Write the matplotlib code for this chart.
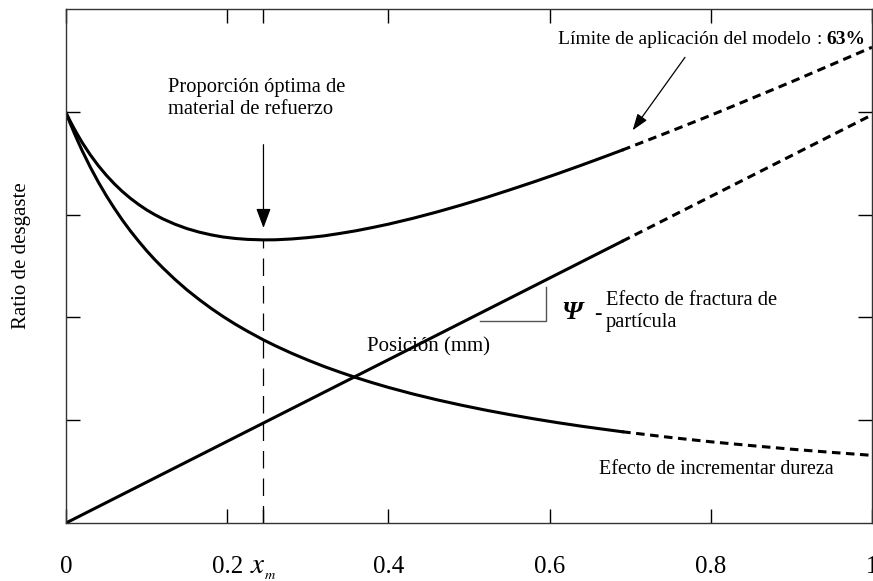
import numpy as np
import matplotlib
matplotlib.use("Agg")
from matplotlib import pyplot as plt

plt.rcParams['font.family'] = ['Liberation Serif', 'DejaVu Serif']
plt.rcParams['mathtext.fontset'] = 'stix'

# posicion (fraccion) y ratio de desgaste
x_solid = [0, 0.005, 0.01, 0.015, 0.02, 0.03, 0.04, 0.05, 0.06, 0.07, 0.08,
           0.09, 0.10, 0.11, 0.12, 0.135, 0.15, 0.165, 0.18, 0.195, 0.21,
           0.225, 0.245, 0.26, 0.28, 0.30, 0.32, 0.34, 0.36, 0.38, 0.40,
           0.43, 0.46, 0.49, 0.52, 0.55, 0.58, 0.61, 0.64, 0.665, 0.69]
x_dash = [0.69, 0.75, 0.80, 0.85, 0.90, 0.95, 1.0]

# efecto de incrementar dureza
dureza_solid = [3.99, 3.892, 3.798, 3.709, 3.623, 3.464, 3.318, 3.184, 3.061,
                2.946, 2.840, 2.742, 2.649, 2.563, 2.483, 2.371, 2.268, 2.175,
                2.088, 2.008, 1.934, 1.866, 1.781, 1.723, 1.651, 1.585, 1.523,
                1.467, 1.414, 1.365, 1.319, 1.256, 1.199, 1.147, 1.099, 1.055,
                1.014, 0.976, 0.941, 0.914, 0.888]
dureza_dash = [0.888, 0.832, 0.790, 0.753, 0.718, 0.687, 0.658]

# efecto de fractura de particula (recta)
fractura_x = [0, 0.69]
fractura_solid = [0, 2.74]
fractura_dash_x = [0.69, 1.0]
fractura_dash = [2.74, 3.97]

# ratio total
total_solid = [3.99, 3.912, 3.838, 3.769, 3.702, 3.583, 3.477, 3.383, 3.299,
               3.224, 3.158, 3.099, 3.046, 3.000, 2.959, 2.907, 2.864, 2.830,
               2.803, 2.782, 2.768, 2.759, 2.754, 2.755, 2.763, 2.776, 2.793,
               2.817, 2.843, 2.874, 2.907, 2.963, 3.025, 3.092, 3.163, 3.239,
               3.317, 3.398, 3.482, 3.554, 3.627]
total_dash = [3.627, 3.810, 3.966, 4.128, 4.291, 4.459, 4.628]

x_m = 0.245
xticks = [0, 0.2, x_m, 0.4, 0.6, 0.8, 1.0]
xlabels = ['0', '0.2', r'$x_{_m}$', '0.4', '0.6', '0.8', '1']
yticks = [1, 2, 3, 4]

fig = plt.figure(figsize=(8.73, 5.81), dpi=100)
ax = fig.add_axes([66/873, 1-523/581, 806/873, 514/581])

lw = 2.2
dash = (0, (2.8, 1.8))
ax.plot(x_solid, dureza_solid, color='black', lw=lw)
ax.plot(x_dash, dureza_dash, color='black', lw=lw, linestyle=dash)
ax.plot(fractura_x, fractura_solid, color='black', lw=lw)
ax.plot(fractura_dash_x, fractura_dash, color='black', lw=lw, linestyle=dash)
ax.plot(x_solid, total_solid, color='black', lw=lw)
ax.plot(x_dash, total_dash, color='black', lw=lw, linestyle=dash)

# linea vertical en x_m
ax.plot([x_m, x_m], [0, total_solid[x_solid.index(x_m)]], color='black',
        lw=0.9, linestyle=(0, (14, 8)))

ax.set_xlim(0, 1)
ax.set_ylim(0, 5)
ax.set_xticks(xticks)
ax.set_xticklabels(xlabels)
ax.set_yticks(yticks)
ax.set_yticklabels([])
ax.tick_params(axis='x', direction='in', length=10, width=1, top=True,
               labelsize=18, pad=24)
ax.tick_params(axis='y', direction='in', length=10, width=1, right=True)
ax.get_xticklabels()[2].set_fontsize(21)
for sp in ax.spines.values():
    sp.set_color('#333333')
    sp.set_linewidth(1.0)

ax.set_ylabel('Ratio de desgaste', fontsize=15)
ax.yaxis.set_label_coords(-0.044, 0.52)

# anotaciones
ax.text(0.127, 4.13, 'Proporción óptima de\nmaterial de refuerzo', fontsize=14.8,
        va='center', ha='left', linespacing=1.25)
ax.annotate('', xy=(x_m, 2.87), xytext=(x_m, 3.68),
            arrowprops=dict(arrowstyle='-|>,head_length=1.2,head_width=0.45',
                            color='black', lw=0.9, shrinkA=0, shrinkB=0))

ax.text(0.610, 4.70, 'Límite de aplicación del modelo', fontsize=14,
        va='center', ha='left')
ax.text(0.932, 4.70, ': ', fontsize=14, va='center', ha='left')
ax.text(0.944, 4.70, '63%', fontsize=14, va='center', ha='left', weight='bold')
ax.annotate('', xy=(0.703, 3.82), xytext=(0.768, 4.53),
            arrowprops=dict(arrowstyle='-|>,head_length=1.0,head_width=0.35',
                            color='black', lw=0.9, shrinkA=0, shrinkB=0))

ax.text(0.374, 1.71, 'Posición (mm)', fontsize=15, va='center', ha='left')

# triangulo de pendiente
ax.plot([0.514, 0.595, 0.595], [1.965, 1.965, 2.30], color='#555555', lw=1.0)
ax.text(0.614, 2.05, 'Ψ', fontsize=19, va='center', ha='left',
        style='italic', weight='bold')
ax.text(0.655, 2.03, '-', fontsize=16, va='center', ha='left', weight='bold')
ax.text(0.670, 2.06, 'Efecto de fractura de\npartícula', fontsize=14.8,
        va='center', ha='left', linespacing=1.2)

ax.text(0.661, 0.52, 'Efecto de incrementar dureza', fontsize=14.4,
        va='center', ha='left')

plt.savefig('out.png', dpi=100)
